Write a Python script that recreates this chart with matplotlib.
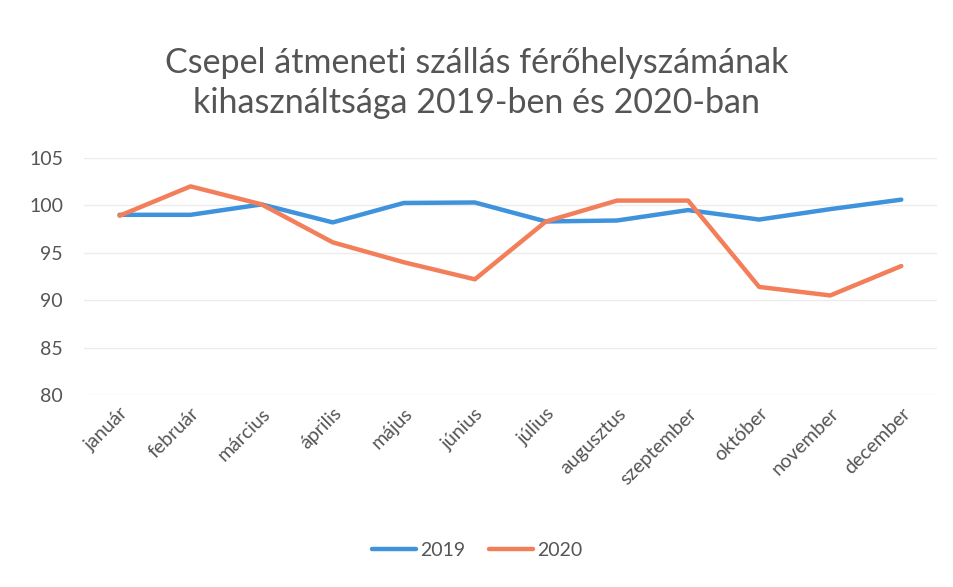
import matplotlib.pyplot as plt

honapok = ['január', 'február', 'március', 'április', 'május', 'június',
           'július', 'augusztus', 'szeptember', 'október', 'november', 'december']
ev2019 = [99.0, 99.0, 100.1, 98.2, 100.25, 100.3, 98.3, 98.4, 99.5, 98.5, 99.6, 100.6]
ev2020 = [98.9, 102.0, 100.1, 96.1, 94.0, 92.2, 98.3, 100.5, 100.5, 91.4, 90.5, 93.6]

plt.rcParams['font.family'] = ['Lato', 'DejaVu Sans']

fig = plt.figure(figsize=(9.54, 5.87), dpi=100)
ax = fig.add_axes([0.088, 0.327, 0.894, 0.404])

x = range(len(honapok))
ax.plot(x, ev2019, color='#3f93dc', lw=3.2, label='2019', solid_capstyle='round')
ax.plot(x, ev2020, color='#f37f5a', lw=3.2, label='2020', solid_capstyle='round')

ax.set_xlim(-0.5, 11.5)
ax.set_ylim(80, 105)
ax.set_yticks([80, 85, 90, 95, 100, 105])
ax.set_xticks(list(x))
ax.set_xticklabels(honapok, rotation=45, ha='right', rotation_mode='anchor')
ax.tick_params(axis='both', length=0, labelsize=14, colors='#555555')
ax.tick_params(axis='x', pad=7)
ax.tick_params(axis='y', pad=15)
ax.grid(axis='y', color='#ececec', lw=1)
ax.set_axisbelow(True)
for s in ax.spines.values():
    s.set_visible(False)

fig.text(0.5, 0.858, 'Csepel átmeneti szállás férőhelyszámának\nkihasználtsága 2019-ben és 2020-ban',
         ha='center', va='center', fontsize=24.5, color='#555555', linespacing=1.3)

fig.legend(loc='center', bbox_to_anchor=(0.5, 0.063), ncol=2, frameon=False,
           fontsize=14, handlelength=2.3, columnspacing=1.2, handletextpad=0.2,
           labelcolor='#555555')

fig.savefig('out.png')
